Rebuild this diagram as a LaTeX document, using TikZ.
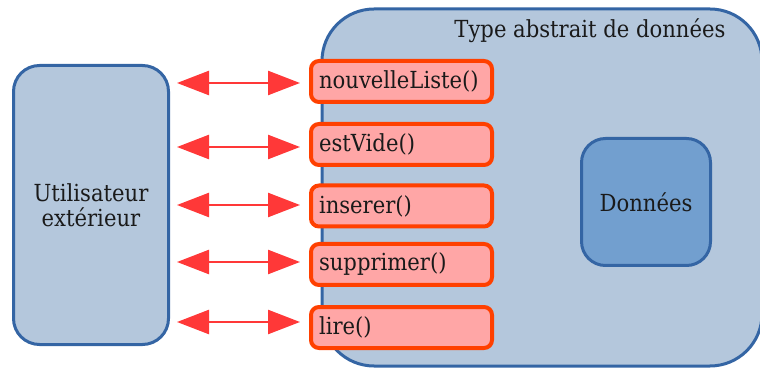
\documentclass[tikz,border=0pt]{standalone}
\usepackage{fontspec}
\setmainfont{DejaVu Serif Condensed}
\usetikzlibrary{arrows.meta}
\definecolor{boxfill}{HTML}{B4C7DC}
\definecolor{boxline}{HTML}{3465A4}
\definecolor{datafill}{HTML}{729FCF}
\definecolor{methfill}{HTML}{FFA6A6}
\definecolor{methline}{HTML}{FF4000}
\definecolor{arrowred}{HTML}{FF3838}
\definecolor{txt}{HTML}{1A1A1A}
\tikzset{
  bigfont/.style={font=\fontsize{23.5}{25}\selectfont, text=txt},
  outer/.style={draw=boxline, fill=boxfill, line width=3pt},
  methbox/.style={draw=methline, fill=methfill, line width=4pt, rounded corners=8pt,
    minimum width=181pt, minimum height=41pt, anchor=west, text width=165pt, align=left,
    inner xsep=8pt, inner ysep=0pt, bigfont},
  link/.style={draw=arrowred, line width=2.5pt, {Triangle[length=32pt,width=24pt]}-{Triangle[length=32pt,width=24pt]}},
}
\begin{document}
\begin{tikzpicture}[x=1pt,y=-1pt]
\useasboundingbox (0,0) rectangle (760,371);
% outer ADT box
\draw[outer, rounded corners=52pt] (322,9) rectangle (762,366);
\node[anchor=base east, bigfont] (title) at (729,38) {Type abstrait de données};
% user box
\node[outer, rounded corners=26pt, minimum width=155pt, minimum height=279pt, align=center,
  bigfont] (user) at (91,205) {Utilisateur\\extérieur};
% data box
\node[draw=boxline, fill=datafill, line width=3pt, rounded corners=24pt, minimum width=129pt,
  minimum height=127pt, bigfont] (data) at (646,202) {Données};
% methods
\node[methbox] (m1) at (309,81.5) {nouvelleListe()};
\node[methbox] (m2) at (309,144.5) {estVide()};
\node[methbox] (m3) at (309,206) {inserer()};
\node[methbox] (m4) at (309,264.5) {supprimer()};
\node[methbox] (m5) at (309,327.5) {lire()};
% arrows
\foreach \m/\yy in {m1/83,m2/147,m3/205,m4/262,m5/322}{
  \coordinate (a\m) at (177,\yy);
  \coordinate (b\m) at (300,\yy);
  \draw[link] (a\m) -- (b\m);
}
\end{tikzpicture}
\end{document}
